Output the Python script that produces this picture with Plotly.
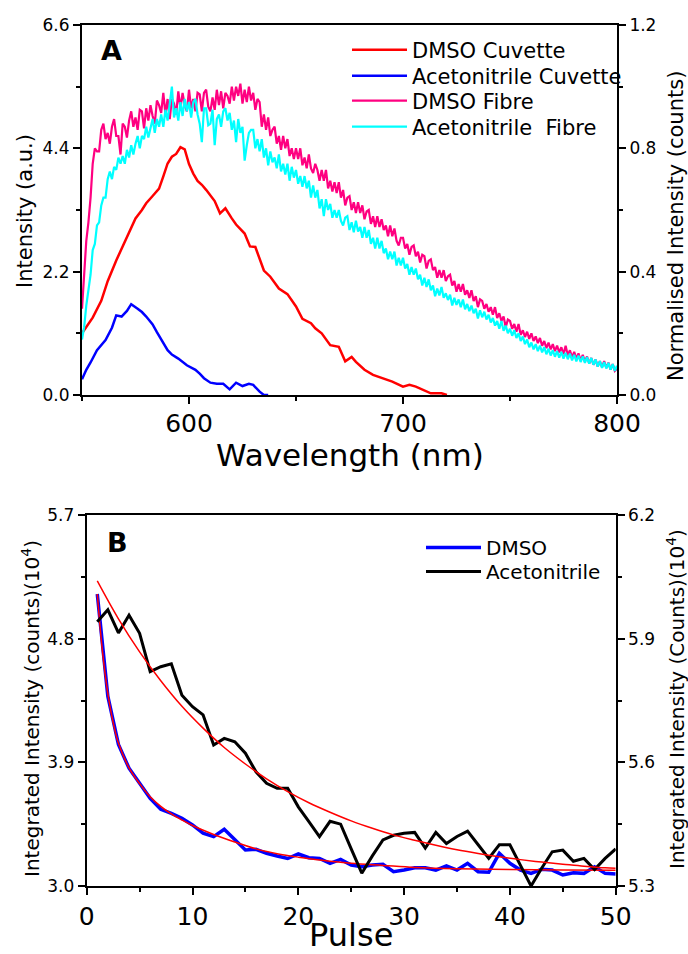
import plotly.graph_objects as go

# ---------------- Panel A data ----------------
wl_dmso_cuv = [550, 555, 559, 562, 566, 571, 575, 578, 580, 583, 586, 588, 590, 592, 594, 596, 598,
               600, 602, 604, 606, 608, 610, 612, 614.5, 617, 620, 622, 626, 628.5, 631, 635, 638,
               642, 646, 650, 653, 657, 659, 662, 666, 670, 673, 676, 678, 682, 686, 691, 695, 700,
               703, 706, 710, 713, 718, 720.5]
int_dmso_cuv = [1.10, 1.38, 1.68, 2.03, 2.40, 2.80, 3.15, 3.30, 3.42, 3.55, 3.68, 3.90, 4.13, 4.25, 4.30,
                4.42, 4.38, 4.12, 3.95, 3.82, 3.75, 3.66, 3.55, 3.46, 3.24, 3.33, 3.15, 3.04, 2.88, 2.65,
                2.64, 2.22, 2.11, 1.90, 1.80, 1.58, 1.36, 1.28, 1.19, 1.10, 0.89, 0.86, 0.60, 0.68, 0.59,
                0.45, 0.36, 0.30, 0.24, 0.15, 0.18, 0.15, 0.08, 0.03, 0.03, 0.0]

wl_acn_cuv = [550, 552, 554, 557, 561, 564, 566, 568.5, 571, 573, 576, 578, 580, 583, 585, 587, 590,
              592, 595, 599, 603, 605, 607, 610, 613, 616, 619, 622, 625, 628, 630, 633, 635, 637]
int_acn_cuv = [0.28, 0.45, 0.58, 0.80, 0.98, 1.20, 1.42, 1.40, 1.50, 1.62, 1.54, 1.48, 1.40, 1.26, 1.12,
               0.99, 0.80, 0.72, 0.65, 0.53, 0.45, 0.38, 0.30, 0.22, 0.20, 0.20, 0.10, 0.22, 0.16, 0.20,
               0.18, 0.06, 0.0, 0.0]

wl_fibre = list(range(550, 801))   # 1 nm steps, 550..800
norm_dmso_fibre = [
    0.28, 0.39, 0.50, 0.56, 0.64, 0.75, 0.80, 0.79, 0.79, 0.86,
    0.88, 0.83, 0.85, 0.815, 0.87, 0.895, 0.84, 0.84, 0.78, 0.88,
    0.87, 0.835, 0.89, 0.92, 0.87, 0.90, 0.86, 0.925, 0.92, 0.865,
    0.93, 0.89, 0.94, 0.905, 0.88, 0.955, 0.94, 0.915, 0.98, 0.91,
    0.96, 0.895, 0.96, 0.945, 0.91, 0.985, 0.93, 0.98, 0.94, 0.92,
    0.99, 0.93, 0.96, 0.92, 0.98, 0.975, 0.92, 0.98, 0.99, 0.935,
    0.92, 0.965, 0.925, 0.99, 0.94, 0.985, 0.93, 0.98, 0.97, 0.945,
    1.00, 0.955, 1.00, 0.97, 1.01, 0.945, 0.99, 0.95, 1.00, 0.955,
    0.98, 0.925, 0.96, 0.95, 0.87, 0.91, 0.86, 0.90, 0.84, 0.86,
    0.87, 0.815, 0.84, 0.795, 0.84, 0.80, 0.83, 0.775, 0.80, 0.765,
    0.80, 0.765, 0.80, 0.745, 0.77, 0.735, 0.78, 0.735, 0.72, 0.75,
    0.73, 0.695, 0.73, 0.695, 0.73, 0.67, 0.695, 0.66, 0.69, 0.655,
    0.69, 0.64, 0.665, 0.615, 0.64, 0.645, 0.60, 0.625, 0.59, 0.625,
    0.59, 0.615, 0.57, 0.595, 0.60, 0.555, 0.58, 0.545, 0.58, 0.545,
    0.57, 0.535, 0.55, 0.515, 0.55, 0.515, 0.54, 0.50, 0.485, 0.51,
    0.51, 0.475, 0.49, 0.455, 0.48, 0.485, 0.45, 0.465, 0.43, 0.455,
    0.45, 0.41, 0.435, 0.44, 0.405, 0.415, 0.38, 0.405, 0.38, 0.405,
    0.37, 0.385, 0.39, 0.355, 0.37, 0.335, 0.36, 0.335, 0.36, 0.325,
    0.34, 0.315, 0.34, 0.305, 0.32, 0.285, 0.31, 0.305, 0.28, 0.295,
    0.27, 0.285, 0.26, 0.285, 0.25, 0.265, 0.24, 0.255, 0.22, 0.245,
    0.24, 0.215, 0.23, 0.205, 0.23, 0.195, 0.21, 0.188, 0.205, 0.182,
    0.20, 0.175, 0.19, 0.168, 0.185, 0.16, 0.175, 0.152, 0.17, 0.148,
    0.165, 0.142, 0.16, 0.138, 0.155, 0.132, 0.16, 0.128, 0.145, 0.122,
    0.14, 0.118, 0.135, 0.112, 0.13, 0.108, 0.125, 0.102, 0.12, 0.098,
    0.115, 0.092, 0.11, 0.09, 0.11, 0.088, 0.105, 0.082, 0.10, 0.078,
    0.085]
norm_acn_fibre = [
    0.18, 0.22, 0.29, 0.34, 0.39, 0.47, 0.49, 0.55, 0.56, 0.615,
    0.64, 0.64, 0.70, 0.725, 0.70, 0.74, 0.73, 0.77, 0.75, 0.775,
    0.75, 0.795, 0.77, 0.81, 0.78, 0.815, 0.84, 0.80, 0.84, 0.83,
    0.87, 0.835, 0.87, 0.895, 0.85, 0.895, 0.87, 0.91, 0.87, 0.925,
    0.89, 0.945, 1.00, 0.90, 0.93, 0.89, 0.95, 0.905, 0.96, 0.92,
    0.95, 0.90, 0.95, 0.96, 0.91, 0.88, 0.82, 0.93, 0.93, 0.875,
    0.88, 0.925, 0.81, 0.895, 0.91, 0.87, 0.92, 0.93, 0.89, 0.915,
    0.86, 0.89, 0.82, 0.895, 0.85, 0.87, 0.76, 0.81, 0.85, 0.86,
    0.86, 0.80, 0.83, 0.79, 0.83, 0.77, 0.80, 0.745, 0.79, 0.755,
    0.77, 0.735, 0.78, 0.725, 0.75, 0.715, 0.75, 0.695, 0.74, 0.705,
    0.73, 0.685, 0.71, 0.675, 0.71, 0.67, 0.695, 0.64, 0.68, 0.64,
    0.665, 0.605, 0.635, 0.58, 0.635, 0.60, 0.62, 0.575, 0.60, 0.575,
    0.60, 0.565, 0.55, 0.575, 0.58, 0.535, 0.56, 0.528, 0.565, 0.53,
    0.545, 0.51, 0.545, 0.51, 0.535, 0.49, 0.51, 0.475, 0.51, 0.475,
    0.50, 0.46, 0.475, 0.44, 0.465, 0.44, 0.465, 0.42, 0.445, 0.42,
    0.445, 0.41, 0.425, 0.39, 0.415, 0.39, 0.41, 0.375, 0.39, 0.355,
    0.38, 0.35, 0.375, 0.34, 0.355, 0.32, 0.345, 0.323, 0.35, 0.315,
    0.33, 0.308, 0.325, 0.29, 0.315, 0.292, 0.31, 0.285, 0.31, 0.278,
    0.295, 0.272, 0.29, 0.265, 0.28, 0.248, 0.275, 0.252, 0.27, 0.245,
    0.26, 0.235, 0.25, 0.225, 0.24, 0.215, 0.24, 0.208, 0.225, 0.20,
    0.215, 0.192, 0.21, 0.185, 0.20, 0.175, 0.19, 0.165, 0.18, 0.155,
    0.17, 0.148, 0.165, 0.142, 0.16, 0.138, 0.155, 0.132, 0.15, 0.128,
    0.145, 0.124, 0.142, 0.121, 0.14, 0.118, 0.137, 0.116, 0.134, 0.112,
    0.13, 0.109, 0.128, 0.107, 0.125, 0.104, 0.123, 0.102, 0.12, 0.098,
    0.115, 0.092, 0.11, 0.088, 0.107, 0.086, 0.104, 0.082, 0.10, 0.078,
    0.095]
assert len(norm_dmso_fibre) == len(wl_fibre) == len(norm_acn_fibre)

# ---------------- Panel B data ----------------
pulse = list(range(1, 51))
dmso_int = [5.125, 4.38, 4.03, 3.857, 3.747, 3.638, 3.558, 3.529, 3.493, 3.444,
            3.384, 3.359, 3.413, 3.335, 3.262, 3.267, 3.238, 3.218, 3.20, 3.233,
            3.206, 3.20, 3.165, 3.194, 3.153, 3.14, 3.153, 3.158, 3.104, 3.116,
            3.133, 3.133, 3.116, 3.146, 3.116, 3.165, 3.104, 3.10, 3.238, 3.165,
            3.116, 3.092, 3.121, 3.116, 3.08, 3.097, 3.092, 3.14, 3.092, 3.087]
acn_int = [5.941, 5.970, 5.914, 5.957, 5.913, 5.820, 5.832, 5.839, 5.763, 5.735,
           5.715, 5.642, 5.658, 5.650, 5.622, 5.577, 5.549, 5.537, 5.537, 5.492,
           5.456, 5.420, 5.457, 5.450, 5.390, 5.331, 5.373, 5.412, 5.423, 5.428,
           5.430, 5.392, 5.430, 5.403, 5.420, 5.433, 5.400, 5.367, 5.400, 5.400,
           5.350, 5.300, 5.343, 5.383, 5.387, 5.360, 5.367, 5.340, 5.367, 5.390]

dmso_fit_p = [1, 1.5, 2, 2.5, 3, 4, 5, 6, 7, 8, 9, 10, 12, 14, 16, 18, 20, 22, 25, 28, 31, 35, 40, 45, 50]
dmso_fit_v = [5.125, 4.70, 4.40, 4.19, 4.04, 3.86, 3.745, 3.65, 3.58, 3.525, 3.48, 3.44, 3.375,
              3.32, 3.27, 3.235, 3.21, 3.19, 3.165, 3.15, 3.135, 3.125, 3.12, 3.117, 3.115]
acn_fit_p = [1, 3, 5, 7, 9, 11, 13, 15, 17, 19, 21, 23, 25, 27, 29, 31, 33, 35, 37, 39, 41, 43, 45, 47, 49, 50]
acn_fit_v = [6.040, 5.948, 5.868, 5.798, 5.736, 5.683, 5.636, 5.596, 5.560, 5.529, 5.502, 5.479, 5.458,
             5.440, 5.424, 5.411, 5.399, 5.388, 5.379, 5.371, 5.364, 5.358, 5.353, 5.348, 5.344, 5.343]

W, H = 688, 954
FONT = "DejaVu Sans"

fig = go.Figure()
fig.add_trace(go.Scatter(x=wl_dmso_cuv, y=int_dmso_cuv, mode="lines", name="DMSO Cuvette",
                         line=dict(color="#FF0000", width=2.5), xaxis="x", yaxis="y", legend="legend"))
fig.add_trace(go.Scatter(x=wl_acn_cuv, y=int_acn_cuv, mode="lines", name="Acetonitrile Cuvette",
                         line=dict(color="#0000FF", width=2.5), xaxis="x", yaxis="y", legend="legend3"))
fig.add_trace(go.Scatter(x=wl_fibre, y=norm_dmso_fibre, mode="lines", name="DMSO Fibre",
                         line=dict(color="#FF0080", width=2.2), xaxis="x", yaxis="y2", legend="legend4"))
fig.add_trace(go.Scatter(x=wl_fibre, y=norm_acn_fibre, mode="lines", name="Acetonitrile\u00a0 Fibre",
                         line=dict(color="#00FFFF", width=2.2), xaxis="x", yaxis="y2", legend="legend5"))

fig.add_trace(go.Scatter(x=pulse, y=dmso_int, mode="lines", name="DMSO",
                         line=dict(color="#0000FF", width=3.5), xaxis="x2", yaxis="y3", legend="legend2"))
fig.add_trace(go.Scatter(x=dmso_fit_p, y=dmso_fit_v, mode="lines", name="DMSO fit", showlegend=False,
                         line=dict(color="#FF0000", width=1.5, shape="spline"), xaxis="x2", yaxis="y3"))
fig.add_trace(go.Scatter(x=pulse, y=acn_int, mode="lines", name="Acetonitrile",
                         line=dict(color="#000000", width=3), xaxis="x2", yaxis="y4", legend="legend6"))
fig.add_trace(go.Scatter(x=acn_fit_p, y=acn_fit_v, mode="lines", name="Acetonitrile fit", showlegend=False,
                         line=dict(color="#FF0000", width=1.5, shape="spline"), xaxis="x2", yaxis="y4"))

axcommon = dict(showline=True, linewidth=2, linecolor="black", showgrid=False, zeroline=False,
                ticks="outside", ticklen=7, tickwidth=2, tickcolor="black", automargin=False)
minor_common = dict(ticks="outside", ticklen=4, tickwidth=2, tickcolor="black", showgrid=False)

xa_dom = [82 / W, 617 / W]
ya_dom = [1 - 395 / H, 1 - 25 / H]
xb_dom = [86.7 / W, 615.7 / W]
yb_dom = [1 - 886 / H, 1 - 515 / H]


def leg(x_px, top_px, size):
    return dict(x=x_px / W, y=1 - top_px / H, xanchor="left", yanchor="top", bgcolor="rgba(0,0,0,0)",
                font=dict(size=size, family=FONT), itemwidth=55, tracegroupgap=0)


def label(text, x_px, y_px, size, angle=0):
    return dict(text=text, x=x_px / W, y=1 - y_px / H, xref="paper", yref="paper", showarrow=False,
                xanchor="center", yanchor="middle", textangle=angle,
                font=dict(size=size, family=FONT, color="black"))


fig.update_layout(
    width=W, height=H, margin=dict(l=0, r=0, t=0, b=0, autoexpand=False),
    paper_bgcolor="white", plot_bgcolor="white",
    font=dict(family=FONT, color="black"),
    xaxis=dict(axcommon, domain=xa_dom, anchor="y", range=[550, 800], mirror=True,
               tickvals=[600, 700, 800], minor=dict(minor_common, tickvals=[550, 650, 750]),
               tickfont=dict(size=25), ticklabelstandoff=-2),
    yaxis=dict(axcommon, domain=ya_dom, anchor="x", range=[0, 6.6],
               tickvals=[0, 2.2, 4.4, 6.6], tickformat=".1f",
               minor=dict(minor_common, tickvals=[1.1, 3.3, 5.5]),
               tickfont=dict(size=17)),
    yaxis2=dict(axcommon, overlaying="y", side="right", anchor="x", range=[0, 1.2],
                tickvals=[0, 0.4, 0.8, 1.2], tickformat=".1f",
                minor=dict(minor_common, tickvals=[0.2, 0.6, 1.0]),
                tickfont=dict(size=17)),
    xaxis2=dict(axcommon, domain=xb_dom, anchor="y3", range=[0, 50], mirror=True,
                tickvals=[0, 10, 20, 30, 40, 50],
                minor=dict(minor_common, tickvals=[5, 15, 25, 35, 45]),
                tickfont=dict(size=25),
                title=dict(text="Pulse", font=dict(size=32))),
    yaxis3=dict(axcommon, domain=yb_dom, anchor="x2", range=[3.0, 5.7],
                tickvals=[3.0, 3.9, 4.8, 5.7], tickformat=".1f",
                minor=dict(minor_common, tickvals=[3.45, 4.35, 5.25]),
                tickfont=dict(size=17)),
    yaxis4=dict(axcommon, overlaying="y3", side="right", anchor="x2", range=[5.3, 6.2],
                tickvals=[5.3, 5.6, 5.9, 6.2], tickformat=".1f",
                minor=dict(minor_common, tickvals=[5.45, 5.75, 6.05]),
                tickfont=dict(size=17)),
    legend=leg(347, 29.5, 21),
    legend3=leg(347, 55.5, 21),
    legend4=leg(347, 80.5, 21),
    legend5=leg(347, 106.5, 21),
    legend2=leg(421, 528, 20),
    legend6=leg(421, 552, 20),
    showlegend=True,
    annotations=[
        label("<b>A</b>", 111, 50, 27),
        label("<b>B</b>", 117, 542, 27),
        label("Wavelength (nm)", 349.5, 455, 31),
        label("Intensity (a.u.)", 25, 211, 21, angle=-90),
        label("Normalised Intensity (counts)", 676, 226, 21, angle=-90),
        label("Integrated Intensity (counts)(10<sup>4</sup>)", 31, 709, 20, angle=-90),
        label("Integrated Intensity (Counts)(10<sup>4</sup>)", 676, 699, 20, angle=-90),
    ],
)

fig.write_html("out.html")
